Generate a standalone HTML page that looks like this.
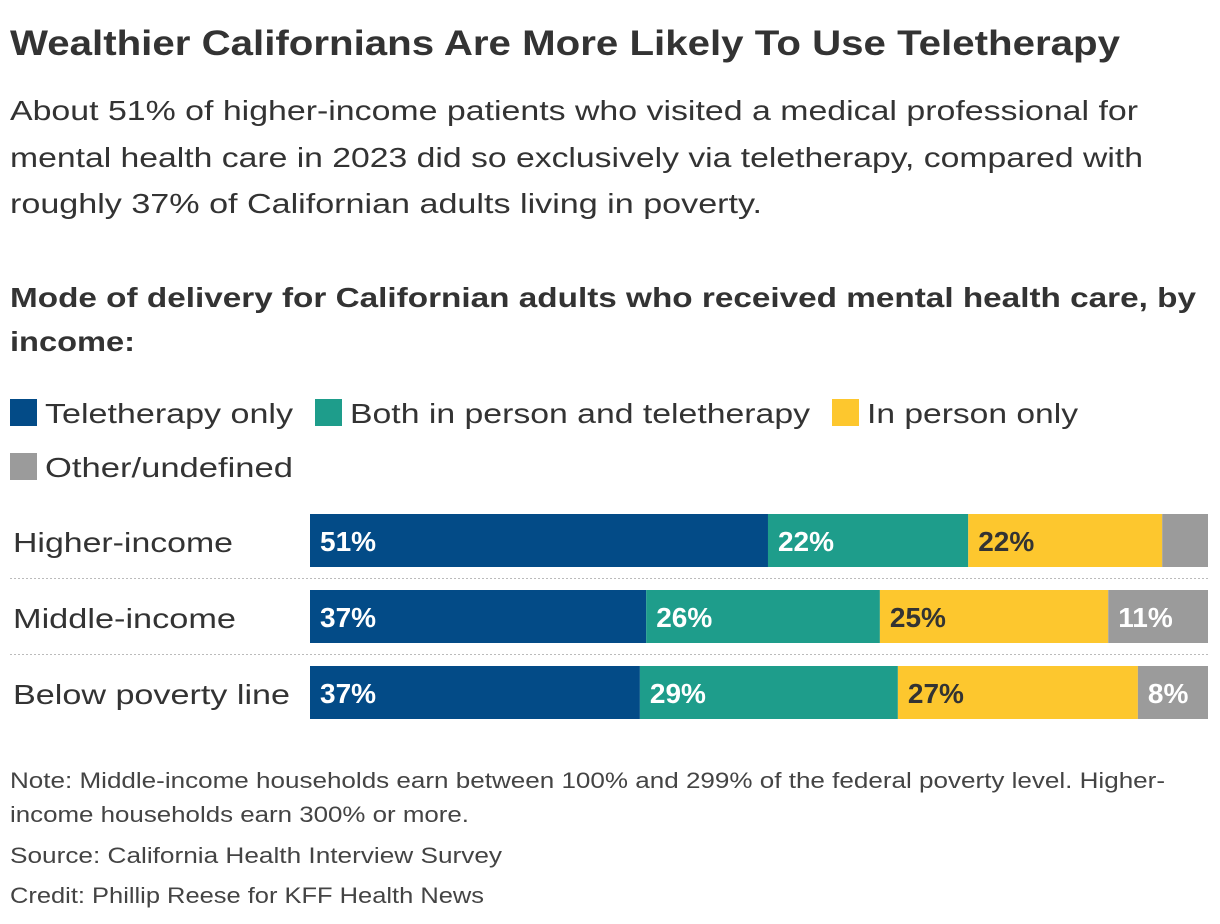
<!DOCTYPE html>
<html><head><meta charset="utf-8"><style>
body{margin:0;background:#fff}
svg{display:block;font-family:"Liberation Sans",sans-serif}
</style></head><body>
<svg id="chart" width="1220" height="924" viewBox="0 0 1220 924" xmlns="http://www.w3.org/2000/svg">
<g fill="#333">
<text x="10" y="55" font-size="35" font-weight="bold" textLength="1110" lengthAdjust="spacingAndGlyphs">Wealthier Californians Are More Likely To Use Teletherapy</text>
<g font-size="28">
<text x="10" y="120" textLength="1128" lengthAdjust="spacingAndGlyphs">About 51% of higher-income patients who visited a medical professional for</text>
<text x="10" y="167" textLength="1133" lengthAdjust="spacingAndGlyphs">mental health care in 2023 did so exclusively via teletherapy, compared with</text>
<text x="10" y="213" textLength="752" lengthAdjust="spacingAndGlyphs">roughly 37% of Californian adults living in poverty.</text>
</g>
<g font-size="28" font-weight="bold">
<text x="10" y="307" textLength="1186" lengthAdjust="spacingAndGlyphs">Mode of delivery for Californian adults who received mental health care, by</text>
<text x="10" y="351" textLength="125" lengthAdjust="spacingAndGlyphs">income:</text>
</g>
<g font-size="28">
<rect x="10" y="399" width="27" height="27" fill="#034b87"/>
<text x="45" y="423" textLength="248" lengthAdjust="spacingAndGlyphs">Teletherapy only</text>
<rect x="315" y="399" width="27" height="27" fill="#1e9d8b"/>
<text x="350" y="423" textLength="460" lengthAdjust="spacingAndGlyphs">Both in person and teletherapy</text>
<rect x="832" y="399" width="27" height="27" fill="#fdc72e"/>
<text x="867" y="423" textLength="211" lengthAdjust="spacingAndGlyphs">In person only</text>
<rect x="10" y="453" width="27" height="27" fill="#9b9b9b"/>
<text x="45" y="477" textLength="248" lengthAdjust="spacingAndGlyphs">Other/undefined</text>
</g>
<g id="bars"></g>
<g font-size="22" fill="#444">
<text x="10" y="788" textLength="1155" lengthAdjust="spacingAndGlyphs">Note: Middle-income households earn between 100% and 299% of the federal poverty level. Higher-</text>
<text x="10" y="822" textLength="459" lengthAdjust="spacingAndGlyphs">income households earn 300% or more.</text>
<text x="10" y="863" textLength="492" lengthAdjust="spacingAndGlyphs">Source: California Health Interview Survey</text>
<text x="10" y="903" textLength="474" lengthAdjust="spacingAndGlyphs">Credit: Phillip Reese for KFF Health News</text>
</g>
</g>
</svg>
<script>
const categories = ["Higher-income", "Middle-income", "Below poverty line"];
const seriesNames = ["Teletherapy only", "Both in person and teletherapy", "In person only", "Other/undefined"];
const teletherapy = [51, 37.4, 36.7];
const both = [22.3, 26, 28.7];
const inPerson = [21.6, 25.4, 26.7];
const other = [5.1, 11.1, 7.8];
const labelWidths = [220, 223, 277];

const colors = ["#034b87", "#1e9d8b", "#fdc72e", "#9b9b9b"];
const textColors = ["#fff", "#fff", "#333", "#fff"];
const x0 = 310, x1 = 1208, rowTop = 514, rowStep = 76, barH = 53;
const xScale = v => (v / 100) * (x1 - x0);
const g = document.getElementById('bars');
const NS = "http://www.w3.org/2000/svg";
const series = [teletherapy, both, inPerson, other];
categories.forEach((cat, i) => {
  const y = rowTop + i * rowStep;
  if (i > 0) {
    const ln = document.createElementNS(NS, 'line');
    
    
    ln.setAttribute('x1', 10); ln.setAttribute('x2', x1);
    ln.setAttribute('y1', y - 11.5); ln.setAttribute('y2', y - 11.5);
    ln.setAttribute('stroke', '#bbb'); ln.setAttribute('stroke-dasharray', '2 2');
    g.appendChild(ln);
  }
  const lab = document.createElementNS(NS, 'text');
  
  
  lab.setAttribute('x', 13); lab.setAttribute('y', y + 38);
  lab.setAttribute('font-size', '28');
  lab.setAttribute('textLength', labelWidths[i]);
  lab.setAttribute('lengthAdjust', 'spacingAndGlyphs');
  lab.textContent = cat;
  g.appendChild(lab);
  const total = series.reduce((s, a) => s + a[i], 0);
  let acc = 0;
  series.forEach((arr, k) => {
    const v = arr[i];
    const bx = x0 + xScale(acc / total * 100);
    const bw = xScale(v / total * 100);
    const r = document.createElementNS(NS, 'rect');
    
    
    r.setAttribute('x', bx); r.setAttribute('y', y);
    r.setAttribute('width', bw); r.setAttribute('height', barH);
    r.setAttribute('fill', colors[k]);
    g.appendChild(r);
    if (bw > 55) {
      const t = document.createElementNS(NS, 'text');
      
      
      t.setAttribute('x', bx + 10); t.setAttribute('y', y + 37);
      t.setAttribute('font-size', '28'); t.setAttribute('font-weight', 'bold');
      t.setAttribute('fill', textColors[k]);
      t.textContent = Math.round(v) + '%';
      g.appendChild(t);
    }
    acc += v;
  });
});
</script>
</body></html>
